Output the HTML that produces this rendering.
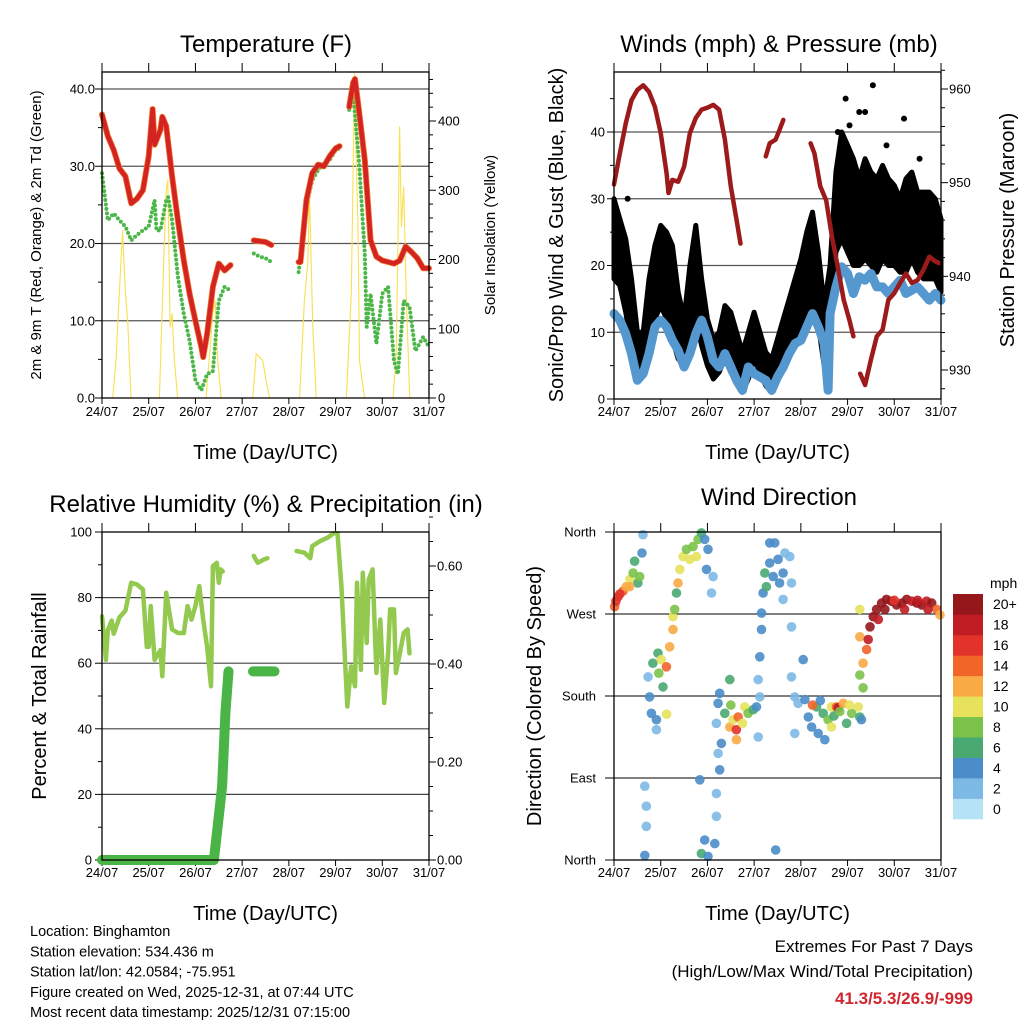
<!DOCTYPE html>
<html><head><meta charset="utf-8"><style>
html,body{margin:0;padding:0;background:#fff;}
svg{display:block;font-family:"Liberation Sans",sans-serif;}
</style></head><body>
<svg id="fig" width="1024" height="1024" viewBox="0 0 1024 1024" xmlns="http://www.w3.org/2000/svg">
<rect width="1024" height="1024" fill="#fff"/>
<g id="layer"></g>
</svg>
<script>
// ---------- DATA ----------
const dayLabels = ["24/07","25/07","26/07","27/07","28/07","29/07","30/07","31/07"];
const tempHours = [0,3,6,9,12,15,18,21,24,26,27,30,31,33,36,39,42,45,48,51,52,54,57,60,63,66,null,78,81,84,87,null,101,102,105,108,111,114,117,120,122,null,127,129,130,132,135,138,141,144,147,150,153,156,159,162,165,168];
const tempVals  = [36.7,33.9,32.1,29.7,28.7,25.2,25.8,26.9,31.3,37.4,32.8,34.7,36.4,35.2,28.7,23,17.8,13.5,10,6.6,5.3,8.3,14.4,17.4,16.5,17.2,null,20.4,20.3,20.2,19.8,null,17.6,17.6,25.6,29.1,30.2,30,31.3,32.3,32.6,null,37.7,40.8,41.3,37.3,30.8,20.4,18.3,17.8,17.6,17.4,17.8,19.6,18.9,18.1,16.8,16.8];
const dewHours = [0,3,6,9,12,15,18,21,24,27,28,30,33,34,36,39,42,45,48,51,54,57,60,63,66,null,78,81,84,87,null,101,105,108,111,114,117,120,122,null,127,129,132,135,136,138,141,144,147,150,152,155,158,161,165,168];
const dewVals  = [29.1,23,23.9,23,22.2,20.4,21.1,21.7,22.2,25.6,21.7,21.7,25.6,26,23,15.7,10.9,7.4,2.3,1,3.1,3.5,12.6,14.4,13.9,null,18.7,18.3,18.1,17.6,null,16.3,24.8,28.2,29.5,30.4,30.8,32.1,32.3,null,37.3,39.5,30.8,18.7,9.2,13.5,7,13.5,14.4,4.8,3.1,12.6,11.8,6.1,7.9,6.6];
const solarHours = [5.5,7.2,8.9,10.6,12,13.2,14.9, 29.5,31.2,32.9,33.8,35,36,37.2,38.9, 53.5,56.9,58.1,59.5,61.2, 77.5,79.2,80.9,82.6,84.3,86.1, 101.5,104,105.8,106.6,108.3,110.1, 125.5,128.1,129.8,130.6,131.5,132.3,134.9, 149.5,151.2,152.9,153.8,155,156.3,158.1];
const solarVals  = [0,54,151,242,151,112,0, 0,151,295,315,102,122,54,0, 0,122,141,54,0, 0,64,59,54,25,0, 0,141,199,295,102,0, 0,151,469,344,247,54,0, 0,64,392,247,305,151,0];
const windHours = [0,3,6,9,12,15,18,21,24,27,30,33,36,39,42,45,48,51,54,57,60,63,66,69,72,75,78,81,84,87,90,93,96,99,102,105,108,110,111,114,117,120,123,126,129,132,135,138,141,144,147,150,153,156,159,162,165,168];
const windVals  = [12.8,11.8,9.8,6.8,2.8,3.8,6.8,10.8,11.8,10.8,8.8,7.3,4.8,6.8,9.8,11.8,9.3,5.8,4.8,6.8,4.8,2.8,1.3,4.8,3.8,3.3,2.8,1.3,3.3,4.8,6.8,8.3,8.8,10.8,12.8,10.8,8.3,1.3,12.8,16.8,19.8,18.8,15.8,18.3,17.8,18.8,16.8,16.8,15.8,16.8,17.8,15.8,16.3,16.8,15.8,14.8,15.8,14.8];
const gustHours = [0,3,6,9,12,15,18,21,24,27,30,33,36,39,42,45,48,51,54,57,60,63,66,69,72,75,78,81,84,87,90,93,96,99,102,105,108,111,114,117,120,123,126,129,132,135,138,141,144,147,150,153,156,159,162,165,168];
const gustHi = [30,27,24,18,10,10,18,23,26,25,23,16,12,20,26,18,12,9,10,14,13,10,7,10,13,10,7,6,9,12,15,18,21,25,28,22,14,20,34,40,38,36,33,36,34,33,35,33,32,30,33,34,31,31,31,30,27];
const gustLo = [18,17,13,8,4,4,8,12,14,12,9,6,5,8,12,8,5,3,4,6,4,3,1,3,6,4,2,1,3,5,7,9,11,13,14,11,5,9,22,24,22,20,20,21,20,19,21,20,20,19,19,21,19,18,18,18,16];
const gustOutHours = [7,115,119,121,126,129,133,140,149,157];
const gustOutVals  = [30,40,45,41,43,43,47,38,42,36];
const presHours = [0,3,6,9,12,15,18,21,24,27,28,30,33,36,39,42,45,48,51,54,57,60,63,65,null,78,80,83,85,87,null,101,103,106,109,112,115,118,121,123,null,126.5,129,132,135,138,141,144,147,150,153,156,159,162,165,167];
const presVals  = [949.8,953.1,956.3,958.8,959.9,960.4,959.7,958.1,955.3,951,948.9,950.3,950.1,951.7,955.3,956.9,957.8,958,958.3,957.8,954.6,949.6,946,943.5,null,952.8,954.2,954.6,955.6,956.7,null,954.2,953.1,949.6,948.1,944.2,941,937.5,935.3,933.6,null,929.6,928.4,931.1,933.6,934.3,937.5,938.2,939.3,940.3,939.3,939.6,940.7,942.1,941.6,941.4];
const rhHours = [0,2,3,5,6,9,12,15,18,21,23,24,25,27,30,31,33,36,39,42,44,46,48,50,52,54,56,57,59,60,61,62,null,78,80,83,85,null,100,104,107,108,112,116,119,121,123,126,128,130,131,133,134,136,137,139,141,143,145,147,148,150,151,153,155,157,158];
const rhVals  = [74.3,61,70,73,69,74,76,84.5,84,82.5,65,65,77.4,61,64,56,81.5,70.3,69.2,69.2,77.4,73.3,77.4,83.5,73.3,65,53,89.6,90.6,84.5,88.6,88,null,92.7,90.6,91.6,92,null,94.2,93.7,92,95.7,97.2,98.3,99.6,99.6,83.5,46.8,59,53,84.5,58,87.6,66.2,85.5,88.6,57,73.3,47.9,63,76.4,76.4,57,63,69.2,70.3,63];
const pcpHours = [0,57.5,61.7,63.4,65,null,77.6,88.6];
const pcpVals  = [0,0,0.15,0.3,0.385,null,0.385,0.385];
const dirHours = [0.3,2.1,4.6,6.3,8.1,9.8,10.6,12.3,13.2,14.4,14.9,15.8,16.6,16.6,15.8,17.5,18.3,19.2,21.8,21.8,20,22.6,24.3,26.9,25.2,28.6,30.3,30.3,31.2,32.1,32.9,33.8,35.5,37.2,38.9,40.6,42.3,43.2,44.9,46.6,48.3,47.5,50.9,50.1,44.9,46.6,48.3,44.1,51.8,53.5,54.3,52.6,53.5,54.3,52.6,52.6,55.2,56.9,59.5,59.5,61.2,62.9,63.8,62.9,67.2,68.9,71.5,73.2,74.1,74.9,74.1,74.9,75.8,75.8,76.6,77.5,78.3,80,81.8,82.6,84.3,85.1,86.9,87.8,90.3,91.2,86.9,80,91.2,91.2,92.9,94.6,97.2,98.1,92.9,99.8,101.5,104.9,108.3,104.1,107.5,110,111.7,114.3,115.2,117.8,111.7,119.5,122.1,125.5,126.3,127.1,128,126.3,128,126.3,129.8,130.6,131.5,133.2,134.9,137.5,140,142.6,145.2,147.8,150.4,153,155.6,158.1,160.6,163.2,165.8,167.5,126.3,135.8,139.2,149.3,161.3,83.1,1,3,8,23,27,60,66,102,106,113,116,121,144,156];
const dirDegs  = [278,289,295,300,308,315,328,304,311,337,357,81,59,37,5,201,179,161,154,143,216,227,220,212,190,234,253,267,275,293,304,319,333,341,330,344,333,352,359,352,341,319,311,293,7,22,4,88,18,172,183,150,117,99,73,48,128,161,198,146,154,143,157,132,168,161,165,168,135,179,198,223,253,271,293,315,300,326,311,348,330,304,315,337,333,304,286,348,256,201,179,172,220,176,139,157,146,139,132,168,161,154,168,168,167,172,146,150,161,168,157,154,189,203,216,245,231,242,256,267,275,282,286,284,280,282,286,284,282,280,284,282,275,269,275,264,275,275,275,11,284,292,300,205,160,170,150,170,175,158,163,170,285,285];
const dirSpeeds = [14,16,14,12,10,8,6,6,8,4,2,2,2,2,4,2,4,4,4,2,6,6,10,14,6,12,12,10,8,6,12,10,10,8,10,8,10,8,6,4,4,4,2,2,6,4,4,4,4,4,4,2,2,4,2,2,4,6,6,12,10,16,14,12,10,8,6,4,2,2,2,4,4,4,4,6,6,4,4,4,4,4,4,2,2,2,2,4,2,2,2,2,4,4,2,4,4,4,4,6,6,8,10,14,18,12,10,6,8,10,6,4,8,8,12,12,14,18,20,20,20,20,20,20,20,20,20,18,20,20,18,20,14,12,10,18,20,18,18,4,16,16,12,8,10,8,10,14,4,6,8,10,16,18];
const cbLabels = ["0","2","4","6","8","10","12","14","16","18","20+"];
const cbColors = ["#b6e2f7","#7db9e5","#4a8dc8","#49a971","#7bc24a","#e6e25c","#f8aa45","#f26529","#e1332b","#c01c24","#95161b"];

const NS="http://www.w3.org/2000/svg";
const layer=document.getElementById('layer');
function mk(tag,attrs,parent){const e=document.createElementNS(NS,tag);for(const k in attrs)e.setAttribute(k,attrs[k]);(parent||layer).appendChild(e);return e;}
function txt(x,y,s,size,anchor,extra){const e=mk('text',Object.assign({x:x,y:y,'font-size':size,'text-anchor':anchor||'middle',fill:'#000'},extra||{}));e.textContent=s;return e;}
function pathFrom(hs,vs,X,Y){let d='',pen=false;for(let i=0;i<hs.length;i++){if(hs[i]===null||vs[i]===null){pen=false;continue;}d+=(pen?'L':'M')+X(hs[i]).toFixed(1)+','+Y(vs[i]).toFixed(1);pen=true;}return d;}

function panel(L,T,R,B,name){
  const g=mk('g',{});
  
  
  const X=h=>L+(R-L)*h/168;
  for(let i=0;i<8;i++){const x=X(i*24);
    mk('line',{x1:x,y1:T,x2:x,y2:T-9,stroke:'#000','stroke-width':1},g);
    mk('line',{x1:x,y1:B,x2:x,y2:B+6,stroke:'#000','stroke-width':1},g);
  }
  return {g:g,X:X};
}
function frame(g,L,T,R,B){mk('rect',{x:L,y:T,width:R-L,height:B-T,fill:'none',stroke:'#000','stroke-width':1.3},g);}
function xLabels(g,X,y,ty){
  dayLabels.forEach((s,i)=>{const t=txt(X(i*24),y,s,13,'middle');g.appendChild(t);
    
    });
  const t=txt((X(0)+X(168))/2,ty,'Time (Day/UTC)',20,'middle');g.appendChild(t);
  
  
}

// Panel 1
(function(){
  const L=102,T=72,R=429,B=398;
  const p=panel(L,T,R,B,'temperature-panel');const g=p.g,X=p.X;
  const Y=v=>B-(B-89)*v/40;
  const Y2=w=>B-(B-121)*w/400;
  [10,20,30,40].forEach(v=>mk('line',{x1:L,x2:R,y1:Y(v),y2:Y(v),stroke:'#555','stroke-width':1.2},g));
  [0,10,20,30,40].forEach(v=>{mk('line',{x1:L,x2:L-7,y1:Y(v),y2:Y(v),stroke:'#000'},g);
    const t=txt(L-7,Y(v)+4.5,v.toFixed(1),13,'end');g.appendChild(t);
    
    });
  for(let v=5;v<42;v+=10)mk('line',{x1:L,x2:L-4,y1:Y(v),y2:Y(v),stroke:'#000'},g);
  for(let w=0;w<=460;w+=20){mk('line',{x1:R,x2:R+(w%100===0?7:4),y1:Y2(w),y2:Y2(w),stroke:'#000'},g);}
  [0,100,200,300,400].forEach(w=>{const t=txt(R+9,Y2(w)+4.5,String(w),13,'start');g.appendChild(t);
    
    });
  const sol=mk('path',{d:pathFrom(solarHours,solarVals,X,Y2),fill:'none',stroke:'#f9e04f','stroke-width':1.1},g);
  
  
  const dew=mk('path',{d:pathFrom(dewHours,dewVals,X,Y),fill:'none',stroke:'#4cb748','stroke-width':4,'stroke-dasharray':'0 4.5','stroke-linecap':'round'},g);
  
  
  const tmo=mk('path',{d:pathFrom(tempHours,tempVals,X,Y),fill:'none',stroke:'#f07a2a','stroke-width':6,'stroke-linejoin':'round','stroke-linecap':'round'},g);
  
  
  const tm=mk('path',{d:pathFrom(tempHours,tempVals,X,Y),fill:'none',stroke:'#d42323','stroke-width':4.5,'stroke-linejoin':'round','stroke-linecap':'round'},g);
  
  
  frame(g,L,T,R,B);
  xLabels(g,X,416,459);
  let t=txt(266,52,'Temperature (F)',24,'middle');g.appendChild(t);
  
  
  t=txt(0,0,'2m & 9m T (Red, Orange) & 2m Td (Green)',15,'middle',{transform:'translate(41,235) rotate(-90)'});g.appendChild(t);
  
  
  t=txt(0,0,'Solar Insolation (Yellow)',15,'middle',{transform:'translate(495,235) rotate(-90)'});g.appendChild(t);
  
  
})();

// Panel 2
(function(){
  const L=614,T=72,R=941,B=399;
  const p=panel(L,T,R,B,'winds-panel');const g=p.g,X=p.X;
  const Y=v=>B-(B-132)*v/40;
  const Y2=m=>370-(370-89)*(m-930)/30;
  [10,20,30,40].forEach(v=>mk('line',{x1:L,x2:R,y1:Y(v),y2:Y(v),stroke:'#555','stroke-width':1.2},g));
  for(let v=0;v<=45;v+=5)mk('line',{x1:L,x2:L-(v%10===0?7:4),y1:Y(v),y2:Y(v),stroke:'#000'},g);
  [0,10,20,30,40].forEach(v=>{const t=txt(L-9,Y(v)+4.5,String(v),13,'end');g.appendChild(t);
    
    });
  for(let m=928;m<=962;m+=2)mk('line',{x1:R,x2:R+(m%10===0?7:4),y1:Y2(m),y2:Y2(m),stroke:'#000'},g);
  [930,940,950,960].forEach(m=>{const t=txt(R+8,Y2(m)+4.5,String(m),13,'start');g.appendChild(t);
    
    });
  let d='';
  for(let i=0;i<gustHours.length;i++)d+=(i?'L':'M')+X(gustHours[i]).toFixed(1)+','+Y(gustHi[i]).toFixed(1);
  for(let i=gustHours.length-1;i>=0;i--)d+='L'+X(gustHours[i]).toFixed(1)+','+Y(gustLo[i]).toFixed(1);
  const gb=mk('path',{d:d+'Z',fill:'#000',stroke:'#000','stroke-width':5,'stroke-linejoin':'round'},g);
  
  
  gustOutHours.forEach((h,i)=>{const c=mk('circle',{cx:X(h),cy:Y(gustOutVals[i]),r:3,fill:'#000'},g);
    
    });
  const wl=mk('path',{d:pathFrom(windHours,windVals,X,Y),fill:'none',stroke:'#5598d0','stroke-width':9,'stroke-linejoin':'round','stroke-linecap':'round'},g);
  
  
  const pl=mk('path',{d:pathFrom(presHours,presVals,X,Y2),fill:'none',stroke:'#9c1a1a','stroke-width':4.5,'stroke-linejoin':'round','stroke-linecap':'round'},g);
  
  
  frame(g,L,T,R,B);
  xLabels(g,X,416,459);
  let t=txt(779,52,'Winds (mph) & Pressure (mb)',24,'middle');g.appendChild(t);
  
  
  t=txt(0,0,'Sonic/Prop Wind & Gust (Blue, Black)',20,'middle',{transform:'translate(563,235) rotate(-90)'});g.appendChild(t);
  
  
  t=txt(0,0,'Station Pressure (Maroon)',20,'middle',{transform:'translate(1014,230) rotate(-90)'});g.appendChild(t);
  
  
})();

// Panel 3
(function(){
  const L=102,T=532,R=429,B=860;
  const p=panel(L,T,R,B,'humidity-panel');const g=p.g,X=p.X;
  const Y=v=>B-(B-T)*v/100;
  const Y2=v=>B-(B-664)*v/0.4;
  [20,40,60,80].forEach(v=>mk('line',{x1:L,x2:R,y1:Y(v),y2:Y(v),stroke:'#444','stroke-width':1.2},g));
  for(let v=0;v<=100;v+=10)mk('line',{x1:L,x2:L-(v%20===0?7:4),y1:Y(v),y2:Y(v),stroke:'#000'},g);
  [0,20,40,60,80,100].forEach(v=>{const t=txt(L-10,Y(v)+4.5,String(v),13,'end');g.appendChild(t);
    
    });
  for(let v=0;v<=0.74;v+=0.05)mk('line',{x1:R,x2:R+(Math.round(v*100)%20===0?7:4),y1:Y2(v),y2:Y2(v),stroke:'#000'},g);
  [0,0.2,0.4,0.6].forEach(v=>{const t=txt(R+8,Y2(v)+4.5,v.toFixed(2),13,'start');g.appendChild(t);
    
    });
  const rl=mk('path',{d:pathFrom(rhHours,rhVals,X,Y),fill:'none',stroke:'#92c94e','stroke-width':4.5,'stroke-linejoin':'round','stroke-linecap':'round'},g);
  
  
  const pc=mk('path',{d:pathFrom(pcpHours,pcpVals,X,Y2),fill:'none',stroke:'#4bb446','stroke-width':10,'stroke-linejoin':'round','stroke-linecap':'round'},g);
  
  
  frame(g,L,T,R,B);
  xLabels(g,X,877,920);
  let t=txt(266,512,'Relative Humidity (%) & Precipitation (in)',24,'middle');g.appendChild(t);
  
  
  t=txt(0,0,'Percent & Total Rainfall',20,'middle',{transform:'translate(46,696) rotate(-90)'});g.appendChild(t);
  
  
})();

// Panel 4
(function(){
  const L=614,T=532,R=941,B=860;
  const p=panel(L,T,R,B,'wind-direction-panel');const g=p.g,X=p.X;
  const Y=d=>B-(B-T)*d/360;
  const names=['North','East','South','West','North'];
  [0,90,180,270,360].forEach((d,i)=>{mk('line',{x1:L-9,x2:R,y1:Y(d),y2:Y(d),stroke:'#000','stroke-width':1.1},g);
    const t=txt(L-18,Y(d)+4.5,names[i],13,'end');g.appendChild(t);
    
    });
  const ci=s=>Math.min(10,Math.round(s/2));
  dirHours.forEach((h,i)=>{const c=mk('circle',{cx:X(h).toFixed(1),cy:Y(dirDegs[i]).toFixed(1),r:4.8,fill:cbColors[ci(dirSpeeds[i])],'fill-opacity':0.9},g);
    
    });
  frame(g,L,T,R,B);
  xLabels(g,X,877,920);
  let t=txt(779,505,'Wind Direction',24,'middle');g.appendChild(t);
  
  
  t=txt(0,0,'Direction (Colored By Speed)',20,'middle',{transform:'translate(541,696) rotate(-90)'});g.appendChild(t);
  
  
  const cb=mk('g',{});
  
  
  const h=(819-594)/11;
  cbLabels.forEach((s,i)=>{const y=819-(i+1)*h;
    const r=mk('rect',{x:953,y:y,width:30,height:h+0.3,fill:cbColors[i]},cb);
    
    
    const t=txt(993,y+h/2+5,s,14,'start');cb.appendChild(t);
    
    });
  t=txt(990,588,'mph',14,'start');cb.appendChild(t);
  
  
})();

(function(){
  const lines=['Location: Binghamton','Station elevation: 534.436 m','Station lat/lon: 42.0584; -75.951','Figure created on Wed, 2025-12-31, at 07:44 UTC','Most recent data timestamp: 2025/12/31 07:15:00'];
  lines.forEach((s,i)=>{const t=txt(30,936+i*20.3,s,14.5,'start');
    
    });
  let t=txt(973,952,'Extremes For Past 7 Days',17,'end');
  
  
  t=txt(973,977,'(High/Low/Max Wind/Total Precipitation)',17,'end');
  
  
  t=txt(973,1004,'41.3/5.3/26.9/-999',17,'end',{fill:'#d0262e','font-weight':'bold'});
  
  
})();
</script>
</body></html>
